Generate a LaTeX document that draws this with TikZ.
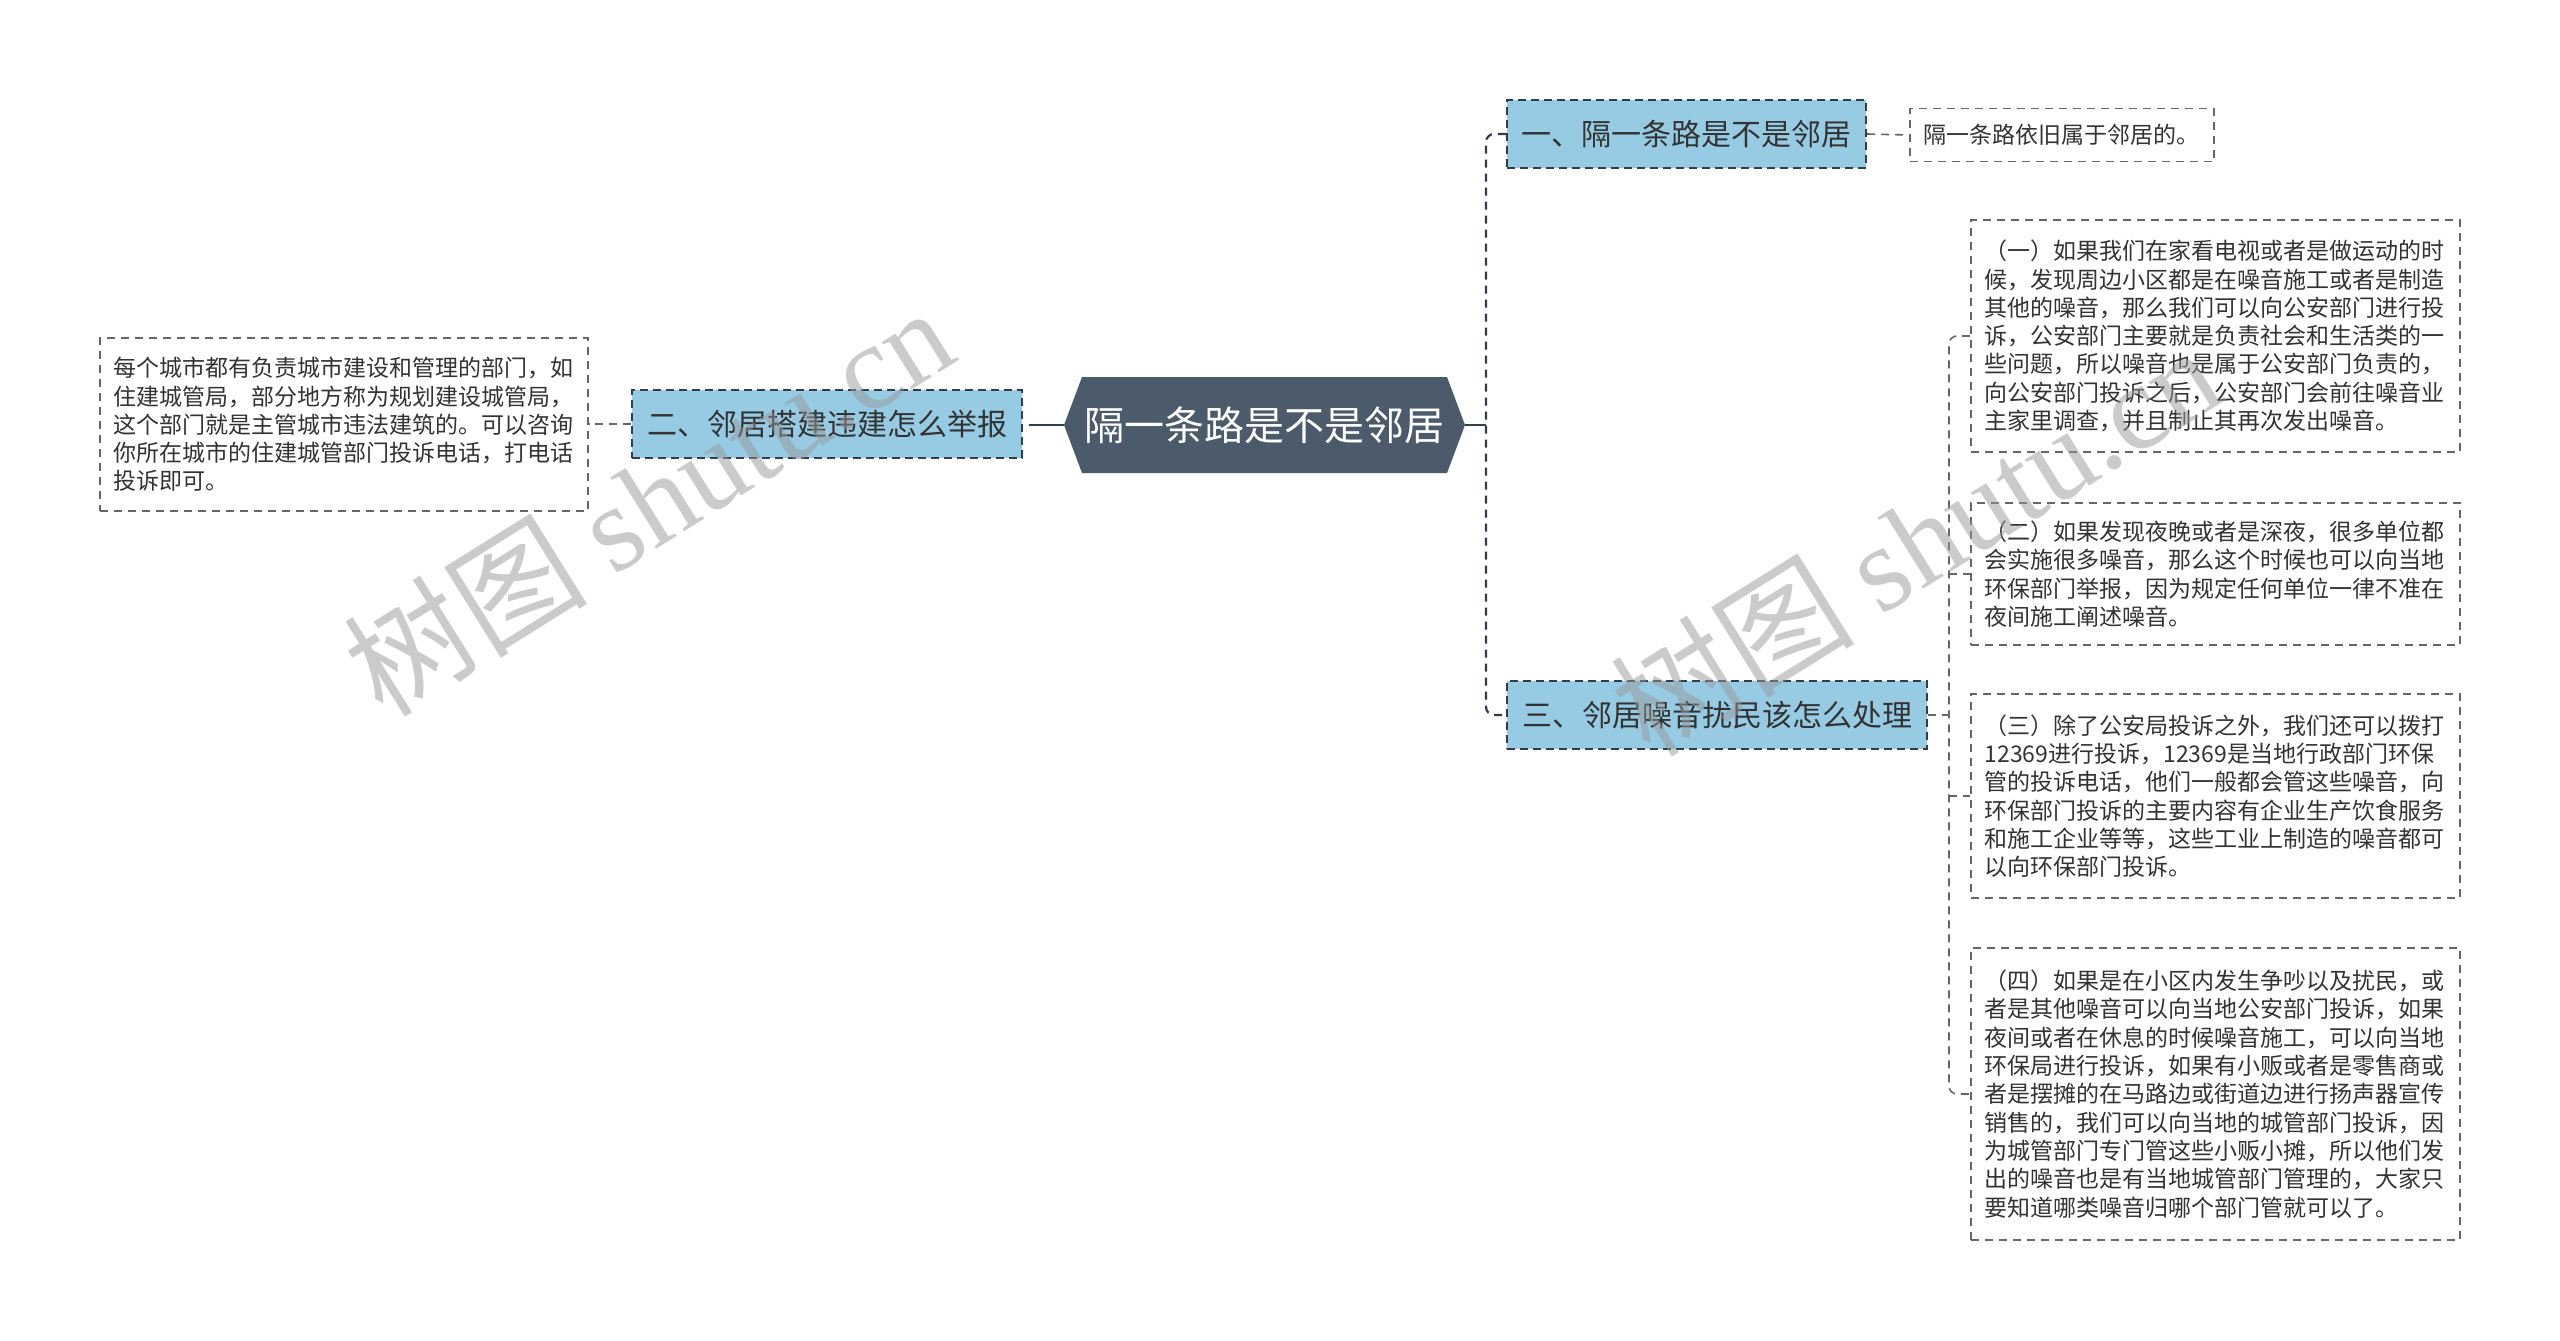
\documentclass[tikz,border=0pt]{standalone}
\usepackage{fontspec}
\setmainfont{Noto Sans CJK SC}
\newfontfamily\cjk{Noto Sans CJK SC}
\newfontfamily\wmserif{Liberation Serif}
\definecolor{centerfill}{HTML}{4B5B6B}
\definecolor{branchfill}{HTML}{97CBE4}
\definecolor{branchdraw}{HTML}{2E3E4E}
\definecolor{leafdraw}{HTML}{666666}
\definecolor{txt}{HTML}{333333}
\definecolor{wm}{HTML}{999999}
\tikzset{
  branchbox/.style={draw=branchdraw, fill=branchfill, line width=2.2pt, dash pattern=on 8pt off 5pt,
    font=\fontsize{30}{36}\selectfont, text=txt, inner xsep=14pt, inner ysep=0pt, minimum height=68pt, anchor=center},
  leafbox/.style={draw=leafdraw, fill=white, line width=1.6pt, dash pattern=on 8pt off 6pt,
    font=\fontsize{23}{28.3}\selectfont, text=txt, align=left, inner xsep=13.5pt, inner ysep=0pt, text width=462pt},
  mainconn/.style={draw=branchdraw, line width=2.2pt, dash pattern=on 8pt off 6pt},
  solidconn/.style={draw=branchdraw, line width=2.2pt},
  leafconn/.style={draw=leafdraw, line width=1.6pt, dash pattern=on 8pt off 6pt},
  wmark/.style={text=wm, text opacity=0.5, rotate=32, font=\fontsize{122}{130}\selectfont, inner sep=0pt}
}
\begin{document}
\begin{tikzpicture}[x=1pt,y=-1pt]
\clip (0,0) rectangle (2560,1341);
\fill[white] (0,0) rectangle (2560,1341);

% central hexagon
\fill[centerfill] (1064,425) -- (1082,377) -- (1447,377) -- (1465,425) -- (1447,473) -- (1082,473) -- cycle;
\node[minimum width=401pt, minimum height=96pt, inner sep=0pt, text=white,
  font=\fontsize{40}{48}\selectfont] (c) at (1264.5,425) {隔一条路是不是邻居};

% branches
\node[branchbox, minimum width=359pt] (b1) at (1686.5,134) {一、隔一条路是不是邻居};
\node[branchbox, minimum width=390pt] (b2) at (827,424) {二、邻居搭建违建怎么举报};
\node[branchbox, minimum width=420pt] (b3) at (1717,715) {三、邻居噪音扰民该怎么处理};

% leaves
\node[leafbox, text width=277pt, minimum height=53pt] (l1) at (2062,135) {隔一条路依旧属于邻居的。};
\node[leafbox, text width=461pt, minimum height=173pt] (l2) at (344,424.5) {每个城市都有负责城市建设和管理的部门，如\\住建城管局，部分地方称为规划建设城管局，\\这个部门就是主管城市违法建筑的。可以咨询\\你所在城市的住建城管部门投诉电话，打电话\\投诉即可。};
\node[leafbox, minimum height=232pt] (l3a) at (2215.5,336) {（一）如果我们在家看电视或者是做运动的时\\候，发现周边小区都是在噪音施工或者是制造\\其他的噪音，那么我们可以向公安部门进行投\\诉，公安部门主要就是负责社会和生活类的一\\些问题，所以噪音也是属于公安部门负责的，\\向公安部门投诉之后，公安部门会前往噪音业\\主家里调查，并且制止其再次发出噪音。};
\node[leafbox, minimum height=142pt] (l3b) at (2215.5,574) {（二）如果发现夜晚或者是深夜，很多单位都\\会实施很多噪音，那么这个时候也可以向当地\\环保部门举报，因为规定任何单位一律不准在\\夜间施工阐述噪音。};
\node[leafbox, minimum height=204pt] (l3c) at (2215.5,796) {（三）除了公安局投诉之外，我们还可以拨打\\12369进行投诉，12369是当地行政部门环保\\管的投诉电话，他们一般都会管这些噪音，向\\环保部门投诉的主要内容有企业生产饮食服务\\和施工企业等等，这些工业上制造的噪音都可\\以向环保部门投诉。};
\node[leafbox, minimum height=292pt] (l3d) at (2215.5,1094) {（四）如果是在小区内发生争吵以及扰民，或\\者是其他噪音可以向当地公安部门投诉，如果\\夜间或者在休息的时候噪音施工，可以向当地\\环保局进行投诉，如果有小贩或者是零售商或\\者是摆摊的在马路边或街道边进行扬声器宣传\\销售的，我们可以向当地的城管部门投诉，因\\为城管部门专门管这些小贩小摊，所以他们发\\出的噪音也是有当地城管部门管理的，大家只\\要知道哪类噪音归哪个部门管就可以了。};

% connectors: center to right spine
\coordinate (sr) at (1486,425);
\coordinate (sr1) at (1486,134);
\coordinate (sr3) at (1486,715);
\draw[solidconn] (c.east) -- (sr);
\draw[mainconn, rounded corners=8pt] (b1.west) -- (sr1) -- (sr3) -- (b3.west);

% center to left branch
\coordinate (sl) at (1037,425);
\draw[solidconn] (c.west) -- (sl);
\draw[mainconn] (sl) -- (b2.east |- sl);

% branch to leaves
\draw[leafconn] (b1.east) -- (l1.west);
\draw[leafconn] (b2.west) -- (l2.east |- b2.west);

\coordinate (s3) at (1949,715);
\coordinate (s3a) at (1949,336);
\coordinate (s3d) at (1949,1094);
\draw[leafconn] (b3.east) -- (s3);
\draw[leafconn, rounded corners=8pt] (l3a.west) -- (s3a) -- (s3d) -- (l3d.west);
\draw[leafconn] (s3 |- l3b.west) -- (l3b.west);
\draw[leafconn] (s3 |- l3c.west) -- (l3c.west);

% watermarks (on top, translucent)
\node[wmark] (w1) at (648,500) {\cjk 树图 \wmserif shutu.cn};
\node[wmark] (w2) at (1915,540) {\cjk 树图 \wmserif shutu.cn};
\end{tikzpicture}
\end{document}
